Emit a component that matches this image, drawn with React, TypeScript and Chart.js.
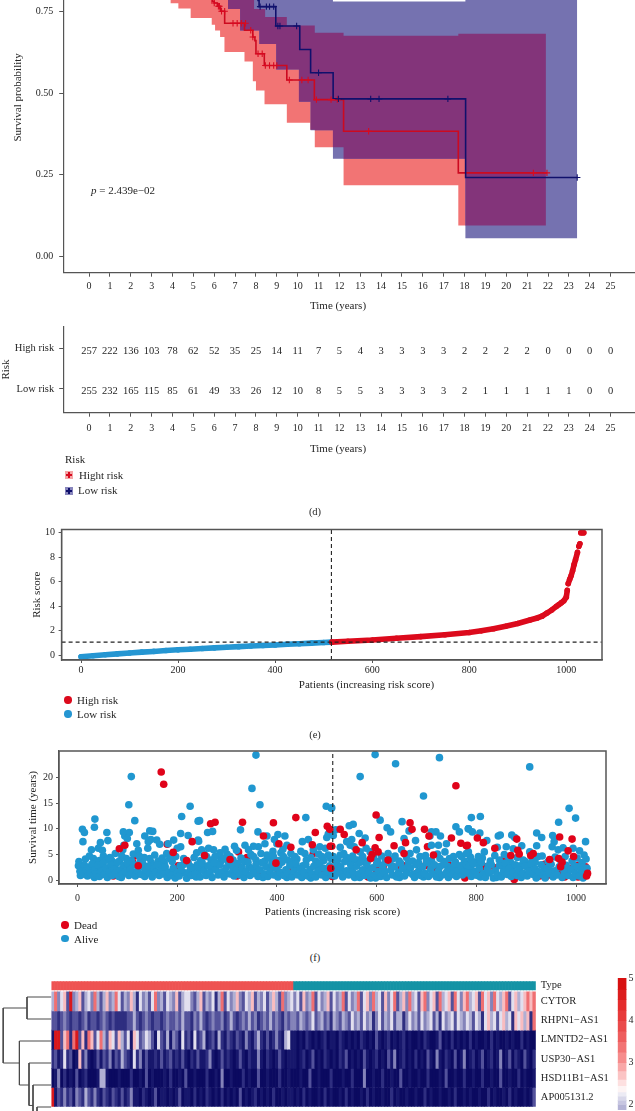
import React, { useEffect, useRef } from "react";
import { Chart, registerables } from "chart.js";
Chart.register(...registerables);

const SERIF = "'Liberation Serif'";
const INK = "#262626";
const AXIS = "#555555";

// ---- Kaplan-Meier (panel d)
const redStepT = [0, 1, 2, 3, 4, 5, 5.5, 5.9, 6.0, 6.15, 6.3, 6.5, 7.45, 7.85, 7.95, 8.0, 8.4, 9.48, 10.8, 12.2, 17.7, 21.95];
const redStepS = [1, 0.985, 0.96, 0.93, 0.89, 0.85, 0.81, 0.78, 0.775, 0.765, 0.75, 0.713, 0.692, 0.671, 0.66, 0.62, 0.584, 0.54, 0.48, 0.383, 0.256, 0.256];
const blueStepT = [0, 1, 2, 3, 4, 5, 6, 7, 7.5, 8.1, 8.15, 8.95, 10.1, 10.62, 11.7, 18.05, 23.4];
const blueStepS = [1, 0.99, 0.97, 0.95, 0.93, 0.9, 0.87, 0.83, 0.81, 0.783, 0.764, 0.705, 0.633, 0.562, 0.482, 0.242, 0.242];
const redCensorT = [6.0, 6.2, 6.25, 6.35, 6.5, 6.9, 7.1, 7.3, 7.5, 7.75, 7.85, 8.1, 8.3, 8.45, 8.65, 8.85, 9.0, 9.6, 10.2, 10.5, 10.9, 11.6, 11.9, 13.4, 21.3, 21.95];
const redCensorS = [0.775, 0.765, 0.765, 0.75, 0.75, 0.713, 0.713, 0.713, 0.713, 0.692, 0.671, 0.62, 0.62, 0.584, 0.584, 0.584, 0.584, 0.54, 0.54, 0.54, 0.48, 0.48, 0.48, 0.383, 0.256, 0.256];
const blueCensorT = [8.2, 8.5, 8.65, 8.85, 9.05, 9.15, 9.95, 11.0, 11.95, 13.5, 13.9, 17.2, 23.4];
const blueCensorS = [0.764, 0.764, 0.764, 0.764, 0.705, 0.705, 0.705, 0.562, 0.482, 0.482, 0.482, 0.482, 0.242];
const redBandT = [0, 1, 2, 3, 3.91, 4.28, 4.87, 5.88, 6.04, 6.28, 6.49, 7.45, 7.85, 7.91, 8.0, 8.41, 8.44, 9.48, 10.6, 10.82, 12.2, 17.7, 21.9];
const redBandLow = [1, 0.97, 0.92, 0.85, 0.774, 0.758, 0.729, 0.709, 0.691, 0.671, 0.625, 0.596, 0.536, 0.536, 0.508, 0.466, 0.466, 0.409, 0.388, 0.334, 0.218, 0.0955, 0.0955];
const redBandUp = [1, 1, 0.99, 0.98, 0.95, 0.94, 0.93, 0.9, 0.89, 0.88, 0.87, 0.84, 0.8, 0.757, 0.757, 0.757, 0.732, 0.706, 0.706, 0.684, 0.675, 0.681, 0.681];
const blueBandT = [0, 1, 2, 3, 4, 5, 6, 6.66, 7.24, 8.16, 8.97, 10.06, 10.62, 11.69, 18.04, 23.4];
const blueBandLow = [1, 0.98, 0.95, 0.92, 0.87, 0.83, 0.79, 0.757, 0.691, 0.65, 0.572, 0.473, 0.386, 0.299, 0.056, 0.056];
const blueBandUp = [1, 1, 1, 0.99, 0.98, 0.97, 0.95, 0.92, 0.9, 0.88, 0.84, 0.82, 0.8, 0.78, 0.85, 0.85];
const bothBandT = [6.66, 7.24, 7.45, 7.85, 7.91, 8.16, 8.44, 8.97, 9.48, 10.06, 10.62, 10.82, 11.69, 12.2, 17.7, 18.04, 21.9];
const bothBandLow = [0.757, 0.691, 0.691, 0.691, 0.691, 0.65, 0.65, 0.572, 0.572, 0.473, 0.388, 0.386, 0.334, 0.299, 0.299, 0.0955, 0.0955];
const bothBandUp = [0.87, 0.87, 0.84, 0.8, 0.757, 0.757, 0.732, 0.732, 0.706, 0.706, 0.706, 0.684, 0.684, 0.675, 0.681, 0.681, 0.681];

// ---- number at risk
const years = [0, 1, 2, 3, 4, 5, 6, 7, 8, 9, 10, 11, 12, 13, 14, 15, 16, 17, 18, 19, 20, 21, 22, 23, 24, 25];
const highAtRisk = [257, 222, 136, 103, 78, 62, 52, 35, 25, 14, 11, 7, 5, 4, 3, 3, 3, 3, 2, 2, 2, 2, 0, 0, 0, 0];
const lowAtRisk = [255, 232, 165, 115, 85, 61, 49, 33, 26, 12, 10, 8, 5, 5, 3, 3, 3, 3, 2, 1, 1, 1, 1, 1, 0, 0];

// ---- risk score (panel e)
const lowScoreX = [0, 25, 50, 75, 100, 125, 150, 175, 200, 225, 250, 275, 300, 325, 350, 375, 400, 425, 450, 475, 500, 516];
const lowScoreY = [-0.12, -0.03, 0.05, 0.12, 0.19, 0.26, 0.32, 0.39, 0.45, 0.5, 0.56, 0.61, 0.66, 0.71, 0.76, 0.8, 0.85, 0.9, 0.95, 1.0, 1.05, 1.08];
const highScoreX = [517, 550, 600, 650, 700, 750, 800, 825, 850, 875, 900, 925, 940, 950, 960, 970, 980, 985, 990, 995, 1000, 1002, 1003, 1004, 1007, 1010, 1013, 1016, 1019, 1023, 1024, 1026, 1028, 1029, 1030, 1033, 1036];
const highScoreY = [1.08, 1.15, 1.25, 1.4, 1.53, 1.68, 1.86, 2.0, 2.17, 2.37, 2.6, 2.88, 3.05, 3.2, 3.45, 3.7, 4.0, 4.15, 4.3, 4.45, 4.75, 5.3, null, 5.85, 6.2, 6.5, 6.9, 7.4, 7.8, 8.4, null, 8.9, 9.1, null, 10, 10, 10];
const scoreCutX = 516;
const scoreCutY = 1.08;

// ---- survival time (panel f): [patient, years]
const alive = [
  [108, 20.2], [103, 14.7], [115, 11.6], [226, 14.4], [209, 12.4], [242, 11.5], [35, 11.9], [34, 10.3], [10, 9.9], [14, 9.3], [11, 7.5], [59, 9.3], [61, 7.7], [46, 7.3], [42, 6.2], [50, 5.8], [28, 5.9], [24, 4.7], [32, 4.2], [44, 3.8],
  [95, 8.6], [104, 9.3], [92, 9.4], [100, 8.1], [93, 6.8], [91, 5.9], [89, 4.7], [119, 7.1], [122, 5.8], [124, 4.7], [145, 9.6], [151, 9.5], [135, 8.6], [147, 7.9], [142, 7.5], [159, 7.8], [165, 7], [141, 6.2], [182, 7.1], [193, 7.8],
  [207, 9.1], [222, 8.7], [242, 7.8], [207, 6.5], [200, 6.2], [179, 5.2], [185, 4.2], [145, 4.2], [65, 4.4], [59, 3.9],
  [2, 2.8], [5, 1.7], [8, 2.2], [4, 3.0], [12, 1.2], [14, 2.9], [18, 1.8], [20, 0.8], [23, 2.5], [26, 1.4], [29, 3.1], [31, 0.9], [35, 2.0], [38, 1.2], [41, 2.9], [44, 0.7], [48, 1.7], [51, 3.3], [54, 1.1], [57, 2.4],
  [60, 0.5], [64, 1.6], [67, 3.0], [70, 0.9], [73, 2.2], [77, 1.3], [80, 3.4], [83, 0.7], [86, 2.0], [90, 1.1], [93, 2.9], [96, 1.6], [100, 3.3], [103, 0.9], [106, 2.1], [110, 1.3], [113, 3.0], [116, 0.8], [120, 1.8], [124, 2.6],
  [128, 1.1], [131, 3.2], [135, 0.7], [138, 1.9], [142, 2.7], [146, 1.2], [150, 0.6], [153, 2.2], [157, 1.5], [160, 3.0], [164, 0.9], [168, 1.9], [172, 1.2], [176, 2.6], [180, 0.5], [184, 1.5], [188, 0.9], [192, 2.3], [196, 0.4], [200, 1.4],
  [204, 0.8], [208, 2.0], [212, 3.0], [219, 0.35], [224, 1.5], [228, 0.9], [232, 2.4], [236, 1.2], [240, 3.0], [244, 1.8],
  [358, 24.4], [350, 17.9], [366, 14.7], [499, 14.4], [509, 14.0], [245, 11.6], [458, 12.2], [327, 9.8], [261, 9.3], [271, 9.5], [243, 7.6], [362, 9.4], [380, 8.6], [395, 7.9], [402, 8.9], [416, 8.6], [400, 7.1], [420, 6.8], [412, 6], [451, 7.5],
  [463, 7.9], [506, 9.7], [500, 8.3], [503, 9.0], [376, 7.1], [363, 6.5], [353, 6.6], [336, 6.8], [315, 6.6], [319, 5.8], [343, 5.9], [296, 6], [286, 5.3], [273, 5.9], [263, 6.2], [249, 5.9], [239, 5.3], [276, 4.6], [293, 4.2], [259, 4.6],
  [306, 4.6], [353, 4.6], [380, 4.9], [393, 4.6], [413, 4.6], [436, 4.6], [486, 6.5], [497, 6.2], [473, 5.9], [456, 5.2], [490, 4.6], [503, 4.9], [433, 3.9],
  [238, 1.1], [242, 2.6], [246, 0.6], [250, 3.4], [254, 1.8], [258, 0.9], [262, 2.8], [266, 1.4], [270, 0.5], [274, 3.3], [278, 2.0], [282, 1.0], [286, 3.0], [290, 1.6], [294, 0.6], [298, 2.4], [302, 3.6], [306, 1.2], [310, 2.9], [314, 0.8],
  [318, 1.9], [322, 3.2], [326, 1.0], [330, 2.4], [334, 0.5], [338, 1.6], [342, 3.5], [346, 0.9], [350, 2.2], [354, 1.3], [358, 3.0], [362, 0.7], [366, 2.0], [370, 3.4], [374, 1.2], [378, 2.6], [382, 0.7], [386, 1.7], [390, 3.2], [394, 1.0],
  [398, 2.3], [402, 0.6], [406, 1.5], [410, 3.5], [414, 0.9], [418, 2.0], [422, 1.3], [426, 2.9], [430, 0.6], [434, 1.8], [438, 3.2], [442, 1.0], [446, 2.2], [450, 0.5], [454, 1.5], [458, 3.0], [462, 0.8], [466, 2.0], [470, 1.2], [474, 2.7],
  [478, 0.6], [482, 1.7], [486, 3.3], [490, 1.0], [494, 2.3], [498, 0.5], [502, 1.6], [506, 2.8], [510, 1.0], [514, 2.2],
  [597, 24.5], [638, 22.7], [726, 23.9], [567, 20.2], [694, 16.4], [510, 14.1], [790, 12.2], [651, 11.4], [607, 11.7], [553, 10.9], [545, 10.6], [518, 9.8], [513, 8.7], [621, 10.2], [628, 9.4], [665, 9.6], [565, 9.1], [577, 8.2], [550, 7.9], [540, 7.5],
  [547, 6.8], [555, 6.5], [527, 6.4], [678, 7.7], [655, 8.1], [710, 9.4], [719, 9.4], [707, 8.6], [728, 8.6], [724, 6.8], [710, 6.8], [740, 7.1], [737, 5.5], [759, 10.4], [766, 9.4], [784, 10], [567, 5.5], [579, 6.2], [587, 5.5], [623, 5.2],
  [637, 4.7], [650, 5.9], [667, 5.2], [680, 5.9], [687, 4.6], [700, 3.9], [727, 4.2], [754, 4.6], [770, 4.6], [784, 5.5], [527, 4.9], [540, 4.4], [557, 3.9], [513, 4.6],
  [512, 2.0], [516, 0.8], [520, 3.3], [524, 1.4], [528, 2.6], [532, 0.6], [536, 3.6], [540, 1.8], [544, 1.0], [548, 3.0], [552, 1.6], [556, 0.5], [560, 2.7], [564, 1.2], [568, 3.5], [572, 2.0], [576, 0.9], [580, 3.1], [584, 1.5], [588, 0.4],
  [592, 2.4], [596, 1.0], [600, 3.2], [604, 1.7], [608, 0.7], [612, 2.9], [616, 1.3], [620, 0.5], [624, 3.4], [628, 1.9], [632, 1.0], [636, 2.6], [640, 0.6], [644, 1.5], [648, 3.3], [652, 2.2], [656, 0.8], [660, 1.4], [664, 3.6], [668, 2.4],
  [672, 1.1], [676, 0.5], [680, 3.0], [684, 1.7], [688, 0.9], [692, 2.6], [696, 1.3], [700, 3.4], [704, 0.7], [708, 2.0], [712, 1.2], [716, 3.0], [720, 0.6], [724, 1.8], [728, 2.7], [732, 1.0], [736, 3.3], [740, 1.5], [744, 0.5], [748, 2.3],
  [752, 1.1], [756, 3.1], [760, 0.7], [764, 1.9], [768, 2.8], [772, 1.0], [776, 1.6], [780, 3.0],
  [907, 22.1], [986, 14], [965, 11.3], [999, 12.1], [808, 12.4], [784, 10.0], [792, 9.4], [807, 9.2], [821, 7.7], [848, 8.8], [844, 8.6], [871, 8.8], [877, 8.3], [921, 9.2], [931, 8.3], [953, 8.7], [956, 7.5], [952, 6.5], [921, 6.7], [842, 6.4],
  [860, 6.5], [891, 6.7], [874, 6.1], [907, 5.5], [964, 5.9], [974, 6.3], [994, 6.2], [1007, 5.7], [1019, 7.5], [1016, 4.9], [924, 4.6], [837, 4.8], [816, 5.5], [804, 4.6], [790, 3.9], [780, 5.2], [864, 4.6], [894, 3.9],
  [782, 1.4], [786, 2.7], [790, 0.7], [794, 3.2], [798, 1.7], [802, 0.9], [806, 2.3], [810, 3.4], [814, 1.2], [818, 0.5], [822, 2.1], [826, 1.4], [830, 3.0], [834, 0.4], [838, 1.8], [842, 1.0], [846, 2.8], [850, 0.6], [854, 1.6], [858, 3.3],
  [862, 1.1], [866, 2.3], [870, 0.7], [874, 1.5], [878, 3.0], [882, 0.9], [886, 2.0], [890, 0.5], [894, 1.3], [898, 2.7], [902, 0.8], [906, 1.8], [910, 3.2], [914, 1.1], [918, 2.2], [922, 0.7], [926, 1.6], [930, 3.0], [934, 1.0], [938, 0.4],
  [942, 2.3], [946, 1.3], [950, 3.1], [954, 0.6], [958, 1.8], [962, 1.0], [966, 2.6], [972, 0.5], [976, 1.6], [980, 2.9], [984, 0.9], [990, 2.0], [994, 0.5], [998, 1.3], [1002, 2.6], [1006, 0.8], [1010, 1.9], [1014, 0.4], [1018, 1.2], [1022, 2.3],
];
// shoulder of the dense band: the crowded region between about 3 and 5.5 years
const aliveShoulder = [
  [3, 3.6], [16, 4.1], [36, 3.5], [52, 4.7], [68, 3.9], [76, 5.2], [84, 3.7], [98, 4.2], [108, 3.8], [112, 5.1], [126, 3.6], [134, 4.4], [148, 3.4], [155, 4.9], [162, 3.7], [170, 4.3], [174, 3.4], [190, 3.6], [197, 4.6], [213, 4.2], [222, 3.4], [234, 4.4], [247, 3.8], [254, 5.1],
  [268, 3.9], [281, 4.7], [288, 3.7], [300, 5.1], [312, 3.9], [328, 4.3], [335, 3.6], [348, 5.0], [358, 3.9], [368, 5.2], [376, 3.7], [385, 4.3], [392, 5.6], [404, 3.8], [408, 5.3], [421, 3.9], [428, 5.2], [440, 4.1], [448, 5.6], [459, 3.9], [468, 4.4], [478, 3.7], [484, 5.1], [494, 3.8], [508, 4.2],
  [522, 3.9], [534, 5.2], [545, 3.6], [552, 4.7], [562, 3.9], [572, 4.6], [582, 3.7], [594, 4.5], [602, 3.6], [610, 4.7], [618, 3.8], [632, 4.1], [645, 3.7], [660, 4.4], [672, 3.7], [684, 3.4], [698, 4.8], [710, 3.8], [722, 5.1], [735, 3.6], [746, 4.2], [758, 3.5], [766, 5.0], [776, 3.7],
  [788, 4.5], [800, 3.4], [812, 4.3], [828, 3.7], [846, 3.9], [856, 5.0], [868, 3.6], [882, 4.4], [898, 3.6], [912, 4.3], [918, 3.5], [932, 4.7], [944, 3.6], [958, 4.5], [970, 3.6], [978, 4.6], [992, 3.7], [1002, 4.3], [1012, 3.4], [1020, 4.1],
  [6, 0.9], [22, 1.9], [34, 0.5], [46, 2.4], [62, 1.1], [75, 2.8], [88, 0.5], [104, 2.6], [118, 1.4], [133, 2.4], [148, 1.8], [166, 2.7], [178, 1.6], [194, 1.2], [206, 2.8], [215, 1.4], [226, 2.7], [238, 0.6], [252, 2.6], [268, 2.2], [280, 3.2], [296, 1.2], [312, 2.2], [328, 1.4], [344, 2.6], [356, 2.2], [372, 0.5], [388, 2.4], [404, 2.9], [420, 0.5], [436, 2.5], [452, 2.8], [468, 0.4], [484, 2.6], [500, 1.2], [518, 2.3], [534, 1.5], [550, 2.4], [566, 0.5], [582, 2.4], [598, 0.4], [614, 1.9], [630, 2.8], [646, 0.5], [662, 2.6], [678, 1.2], [694, 0.6], [710, 2.6], [726, 0.5], [742, 2.7], [758, 1.9], [774, 2.5], [790, 2.0], [808, 0.6], [824, 2.8], [840, 0.5], [856, 2.2], [872, 2.4], [888, 2.8], [904, 2.4], [920, 0.4], [936, 2.2], [952, 1.7], [968, 2.4], [982, 2.2], [996, 2.8], [1012, 2.6],
];
const deadBack = [
  [180, 7], [202, 2.8], [111, 3.4], [38, 2.1], [70, 1.3], [72, 0.8], [120, 1.2], [115, 4.7], [323, 5.5], [340, 4.4], [323, 2.6], [320, 0.8], [368, 1.2], [402, 1.3], [432, 2.3], [460, 1], [473, 5.2], [490, 1.6], [511, 0.7],
  [702, 6.5], [720, 1.9], [679, 1.2], [768, 2.1], [777, 0.4], [786, 1.9], [599, 2], [613, 2.6], [583, 0.6], [643, 2.6], [657, 2.8], [697, 2.8], [744, 3], [997, 2.5], [977, 0.6], [964, 1.6], [941, 0.8], [927, 0.8], [876, 0.1], [864, 1.2], [837, 2.4],
  [818, 2.6], [809, 1.2], [787, 2], [1004, 0.6], [987, 2.3], [1004, 2.9], [1019, 2.6], [854, 4], [904, 3.1], [937, 3.1],
];
const deadFront = [
  [168, 21.1], [173, 18.7], [192, 5.4], [230, 7.5], [84, 6.1], [95, 6.8], [219, 3.8], [122, 2.8],
  [276, 11.3], [267, 11], [331, 11.3], [393, 11.2], [438, 12.2], [501, 10.5], [506, 9.9], [477, 9.3], [471, 6.9], [373, 8.6], [404, 7.1], [428, 6.4], [255, 4.8], [306, 4], [398, 3.3], [508, 2.3], [510, 6.6],
  [759, 18.4], [599, 12.7], [667, 11.2], [671, 9.9], [696, 9.9], [527, 9.9], [535, 8.9], [605, 8.3], [750, 8.2], [769, 7.2], [780, 6.7], [571, 7.3], [658, 7.3], [635, 6.7], [597, 6.3], [603, 5.5], [559, 5.9], [591, 5], [588, 4.2], [714, 4.9], [655, 5.2], [705, 8.6], [507, 6.6], [623, 3.9],
  [782, 6.8], [802, 8.2], [814, 7.3], [881, 8], [967, 8.4], [992, 8], [837, 6.2], [883, 5.8], [886, 5.1], [914, 5.2], [909, 4.8], [869, 4.8], [995, 4.6], [984, 5.7], [947, 4], [965, 4.2], [972, 3.5], [969, 2.6], [1023, 1.3], [1021, 0.8],
];
const survivalCutX = 512;

// ---- heatmap (panel g) : expression class per sample, 0 = deep blue ... 9 = deep red
const typeGroups = [80, 80];
const geneLabels = ["CYTOR", "RHPN1\u2212AS1", "LMNTD2\u2212AS1", "USP30\u2212AS1", "HSD11B1\u2212AS1", "AP005131.2"];
const cytorCells = [
  5,8,4,6,7,3,9,4,5,7,3,5,6,4,8,5,3,5,7,4, 5,8,6,3,5,4,7,5,2,6,4,5,3,6,8,4,5,3,6,5,
  4,7,3,5,6,6,4,3,5,7,3,5,4,6,2,5,8,3,6,4, 5,7,4,3,6,5,7,3,5,4,6,3,5,7,5,3,8,4,5,6,
  4,6,3,7,4,5,8,3,6,4,5,7,3,6,4,5,8,3,6,4, 5,8,3,6,7,4,8,5,6,3,7,4,6,8,3,5,7,4,8,5,
  6,3,7,8,4,6,7,3,8,5,6,7,3,8,6,4,7,8,5,6, 7,3,8,6,7,4,8,6,5,7,8,3,6,7,5,6,7,8,7,8,
];
const rhpn1Cells = [
  3,3,2,3,4,3,2,3,3,2,3,4,2,3,3,2,3,4,3,2, 3,2,2,2,2,3,3,5,3,2,3,4,3,2,3,3,2,3,4,3,
  3,4,3,5,3,3,2,4,3,5,3,2,3,4,3,3,4,2,3,5, 3,2,3,4,3,5,3,4,2,3,4,3,5,3,4,3,2,4,3,4,
  4,3,5,4,3,4,6,3,4,5,3,4,2,5,4,3,5,4,3,6, 4,5,3,6,4,5,2,4,6,3,5,4,6,3,5,5,2,4,6,4,
  5,3,6,4,5,6,3,5,2,6,4,5,6,3,6,5,4,6,5,3, 6,5,2,6,7,5,6,3,6,7,5,6,2,7,6,7,5,7,2,8,
];
const lmntd2Cells = [
  1,9,9,3,7,8,2,8,9,3,7,2,8,7,3,6,8,5,3,7, 6,3,7,5,3,6,1,7,6,3,4,6,5,3,1,6,3,2,5,1,
  4,3,1,6,2,3,1,6,2,3,5,1,2,3,1,5,2,1,3,2, 1,3,2,1,4,2,1,3,5,2,1,3,1,2,4,2,1,5,6,1,
  1,0,1,0,2,1,0,1,0,1,2,0,1,1,0,2,1,0,1,0, 1,0,2,1,0,1,0,3,1,0,1,2,0,1,0,1,2,0,1,0,
  0,1,0,2,1,0,0,1,3,0,1,0,2,0,1,0,1,0,2,0, 1,0,0,1,0,2,0,1,0,0,1,0,1,0,0,2,0,1,0,0,
];
const usp30Cells = [
  2,3,1,2,6,2,3,0,1,7,2,4,1,0,1,3,1,3,2,4, 1,3,2,5,3,2,1,6,2,4,1,3,1,1,2,1,3,1,2,3,
  1,2,1,3,1,0,2,1,3,1,1,2,4,1,0,1,3,1,2,1, 0,1,3,1,0,2,1,1,4,1,0,2,1,0,1,3,1,0,1,1,
  1,0,1,2,0,1,3,0,1,0,2,1,0,1,0,2,1,3,0,1, 0,1,0,3,1,0,1,2,0,1,0,3,1,4,0,1,2,0,1,0,
  2,0,1,0,3,1,0,4,1,0,2,1,0,3,0,1,4,0,1,2, 0,1,3,0,1,2,0,1,4,0,1,3,0,2,1,0,3,1,0,2,
];
const hsd11b1Cells = [
  0,1,4,0,2,0,1,0,3,0,1,2,0,0,0,1,5,5,1,0, 0,0,1,0,0,0,2,0,0,1,0,3,0,1,0,0,0,1,0,2,
  0,0,1,0,3,0,0,1,0,0,0,2,0,0,1,0,4,0,0,1, 0,0,0,2,0,1,0,0,3,0,0,1,0,0,0,2,0,0,1,0,
  0,0,1,0,0,3,0,0,1,0,0,0,2,0,0,0,1,0,0,2, 0,0,0,4,0,0,1,0,0,2,0,0,1,0,0,3,0,0,1,0,
  0,1,0,0,2,0,0,0,1,0,3,0,0,1,0,0,2,0,0,1, 0,0,2,0,0,1,0,0,3,0,0,1,0,0,2,0,1,0,0,1,
];
const ap005131Cells = [
  9,1,3,2,4,2,3,1,4,3,2,5,3,2,4,2,1,3,2,1, 3,2,1,3,1,2,4,1,1,0,2,1,0,1,3,0,1,1,0,1,
  0,1,3,0,1,1,0,2,0,1,0,2,1,0,1,0,2,0,1,0, 1,0,3,0,1,0,1,2,0,1,0,1,0,2,0,0,1,0,1,1,
  0,1,0,2,0,1,0,0,1,0,2,0,1,0,0,1,0,2,0,1, 0,0,1,0,2,0,1,0,0,1,0,0,2,0,1,0,0,1,0,0,
  1,0,0,2,0,1,0,0,1,0,0,1,0,2,0,0,1,0,1,0, 0,1,0,0,2,0,1,0,0,1,0,2,0,1,0,0,1,0,1,3,
];
const cellPalette = ["#0b0a60", "#17176c", "#2e2e80", "#53529b", "#8483b9", "#b0afd3", "#e2dfee", "#f8bcc0", "#ef6f72", "#d8181c"];
const dendrogramLinks = [
  [[24.4, 1], [48.2, 1], [48.2, 3.5], [32, 3.5]],
  [[0, 0.5], [24.4, 0.5], [24.4, 1.5], [0, 1.5]],
  [[0, 2.5], [32, 2.5], [32, 4.5], [22.4, 4.5]],
  [[0, 3.5], [22.4, 3.5], [22.4, 5.43], [18.4, 5.43]],
  [[0, 4.5], [18.4, 4.5], [18.4, 6.3], [14.4, 6.3]],
  [[0, 5.5], [14.4, 5.5], [14.4, 7]],
];
const colorbarEdges = [5.02, 4.75, 4.5, 4.25, 4, 3.75, 3.5, 3.25, 3, 2.8, 2.6, 2.45, 2.3, 2.2, 2.1, 2, 1.87];
const colorbarFills = ["#d70f0f", "#dc1d1d", "#e42c2c", "#e73a3a", "#ea4a4a", "#ee5d5d", "#f27474", "#f68c8c", "#f9a8a8", "#fbc4c4", "#fde0e0", "#fdf4f4", "#ecebf4", "#d9d8ea", "#c7c6e1", "#b4b3d6"];

const pairs = (xs, ys) => xs.map((x, i) => ({ x, y: ys[i] }));
const objs = (rows) => rows.map(([x, y]) => ({ x, y }));

const xAxis = (min, max, maxTick, step, height, tickLength, padding) => ({
  type: "linear",
  min,
  max,
  afterFit: (s) => { s.height = height; },
  afterBuildTicks: (s) => { s.ticks = s.ticks.filter((t) => t.value >= 0 && t.value <= maxTick); },
  grid: { drawOnChartArea: false, tickLength, color: AXIS, lineWidth: 1 },
  border: { color: AXIS, width: 1.2 },
  ticks: { stepSize: step, includeBounds: false, autoSkip: false, maxRotation: 0, padding, color: INK, font: { size: 10 }, callback: (v) => String(v) },
});
const yAxis = (min, max, step, width, tickLength, padding, titleText, titlePad, fmt, maxTick = Infinity) => ({
  type: "linear",
  min,
  max,
  afterFit: (s) => { s.width = width; },
  afterBuildTicks: (s) => { s.ticks = s.ticks.filter((t) => t.value <= maxTick); },
  grid: { drawOnChartArea: false, tickLength, color: AXIS, lineWidth: 1 },
  border: { color: AXIS, width: 1.2 },
  ticks: { stepSize: step, includeBounds: false, autoSkip: false, padding, color: INK, font: { size: 10 }, callback: fmt || ((v) => String(v)) },
  title: titleText ? { display: true, text: titleText, color: INK, font: { size: 11 }, padding: { top: titlePad, bottom: 0 } } : { display: false },
});
const base = (padding) => ({
  responsive: false,
  animation: false,
  devicePixelRatio: 1,
  events: [],
  layout: { autoPadding: false, padding },
  plugins: { legend: { display: false }, tooltip: { enabled: false } },
});
const frame = {
  id: "frame",
  afterDatasetsDraw(c) {
    const { left, top, width, height } = c.chartArea;
    c.ctx.save();
    c.ctx.strokeStyle = AXIS;
    c.ctx.lineWidth = 1.5;
    c.ctx.strokeRect(left, top, width, height);
    c.ctx.restore();
  },
};
const rule = (data, color) => ({ data, showLine: true, pointRadius: 0, borderColor: color, borderWidth: 1.1, borderDash: [4, 3], order: -1 });
const band = (xs, up, low, fill, order) => [
  { data: pairs(xs, up), showLine: true, stepped: "before", pointRadius: 0, borderWidth: 0, fill: false, order },
  { data: pairs(xs, low), showLine: true, stepped: "before", pointRadius: 0, borderWidth: 0, backgroundColor: fill, fill: "-1", order },
];

const T = ({ x, y, size = 11, center = false, children }) => (
  <div style={{ position: "absolute", left: x, top: y, transform: center ? "translate(-50%,-50%)" : "translateY(-50%)", fontFamily: SERIF, fontSize: size, color: INK, whiteSpace: "nowrap", lineHeight: 1 }}>{children}</div>
);
const Dot = ({ x, y, color }) => (
  <div style={{ position: "absolute", left: x - 3.7, top: y - 3.7, width: 7.4, height: 7.4, borderRadius: "50%", background: color }} />
);
const Key = ({ x, y, fill, mark }) => (
  <div style={{ position: "absolute", left: x, top: y, width: 8, height: 8, background: fill }}>
    <div style={{ position: "absolute", left: 1, top: 3.4, width: 6, height: 1.2, background: mark }} />
    <div style={{ position: "absolute", left: 3.4, top: 1, width: 1.2, height: 6, background: mark }} />
  </div>
);

export default function App() {
  const km = useRef(null);
  const risk = useRef(null);
  const score = useRef(null);
  const surv = useRef(null);
  const heat = useRef(null);
  const dendro = useRef(null);
  const bar = useRef(null);

  useEffect(() => {
    Chart.defaults.font.family = SERIF;
    const charts = [];

    charts.push(new Chart(km.current, {
      type: "scatter",
      data: {
        datasets: [
          ...band(redBandT, redBandUp, redBandLow, "#f27474", 7),
          ...band(blueBandT, blueBandUp, blueBandLow, "#7572b0", 6),
          ...band(bothBandT, bothBandUp, bothBandLow, "#83347a", 5),
          { data: pairs(redStepT, redStepS), showLine: true, stepped: "before", pointRadius: 0, borderColor: "#cc0a20", borderWidth: 1.6, order: 3 },
          { data: pairs(blueStepT, blueStepS), showLine: true, stepped: "before", pointRadius: 0, borderColor: "#10106c", borderWidth: 1.6, order: 2 },
          { data: pairs(redCensorT, redCensorS), pointStyle: "cross", pointRadius: 3.2, borderColor: "#d80a20", pointBorderWidth: 1.1, order: 1 },
          { data: pairs(blueCensorT, blueCensorS), pointStyle: "cross", pointRadius: 3.2, borderColor: "#10106c", pointBorderWidth: 1.1, order: 0 },
        ],
      },
      options: {
        ...base({ top: 11.3, left: 0, right: 0, bottom: 0 }),
        scales: {
          x: xAxis(-1.24, 26.17, 25, 1, 38.3, 4, 4),
          y: yAxis(-0.049, 1.0226, 0.25, 63.2, 4, 6, "Survival probability", 11.4, (v) => v.toFixed(2)),
        },
      },
    }));

    charts.push(new Chart(risk.current, {
      type: "scatter",
      data: {
        datasets: [
          { data: years.map((x) => ({ x, y: 2 })), pointRadius: 0, counts: highAtRisk },
          { data: years.map((x) => ({ x, y: 1 })), pointRadius: 0, counts: lowAtRisk },
        ],
      },
      options: {
        ...base({ top: 8, left: 0, right: 0, bottom: 0 }),
        scales: {
          x: xAxis(-1.24, 26.17, 25, 1, 41.3, 4, 6),
          y: {
            ...yAxis(0.412, 2.548, 1, 63.2, 4, 5, "Risk", 0),
            afterBuildTicks: (s) => { s.ticks = [{ value: 1 }, { value: 2 }]; },
            ticks: { padding: 5, color: INK, font: { size: 10.5 }, callback: (v) => (v === 2 ? "High risk" : "Low risk") },
          },
        },
      },
      plugins: [{
        id: "counts",
        afterDatasetsDraw(c) {
          const { ctx } = c;
          ctx.save();
          ctx.font = `10.5px ${SERIF}`;
          ctx.fillStyle = INK;
          ctx.textAlign = "center";
          ctx.textBaseline = "middle";
          c.data.datasets.forEach((d, i) => {
            c.getDatasetMeta(i).data.forEach((p, j) => ctx.fillText(String(d.counts[j]), p.x, p.y + 2.5));
          });
          ctx.restore();
        },
      }],
    }));

    charts.push(new Chart(score.current, {
      type: "scatter",
      data: {
        datasets: [
          rule([{ x: scoreCutX, y: -0.38 }, { x: scoreCutX, y: 10.27 }], "#222"),
          rule([{ x: -40, y: scoreCutY }, { x: 1073, y: scoreCutY }], "#222"),
          { data: pairs(highScoreX, highScoreY), showLine: true, borderColor: "#dc0a1c", backgroundColor: "#dc0a1c", borderWidth: 5.6, pointRadius: 2.8, pointBorderWidth: 0, borderCapStyle: "round", order: 1 },
          { data: pairs(lowScoreX, lowScoreY), showLine: true, borderColor: "#2596d2", backgroundColor: "#2596d2", borderWidth: 5.6, pointRadius: 2.8, pointBorderWidth: 0, borderCapStyle: "round", order: 2 },
        ],
      },
      options: {
        ...base({ top: 9, left: 0, right: 33, bottom: 0 }),
        scales: {
          x: xAxis(-40, 1073.6, 1000, 200, 20, 3, 1),
          y: yAxis(-0.38, 10.27, 2, 61.6, 3, 3.5, "Risk score", 31),
        },
      },
      plugins: [frame],
    }));

    charts.push(new Chart(surv.current, {
      type: "scatter",
      data: {
        datasets: [
          rule([{ x: survivalCutX, y: -0.77 }, { x: survivalCutX, y: 25.2 }], "#222"),
          { data: objs(deadFront), backgroundColor: "#e0031a", pointRadius: 3.8, pointBorderWidth: 0, order: 1 },
          { data: objs(alive), backgroundColor: "#2097d0", pointRadius: 3.8, pointBorderWidth: 0, order: 2 },
          { data: objs(aliveShoulder), backgroundColor: "#2097d0", pointRadius: 3.8, pointBorderWidth: 0, order: 2 },
          { data: objs(deadBack), backgroundColor: "#e0031a", pointRadius: 3.8, pointBorderWidth: 0, order: 3 },
        ],
      },
      options: {
        ...base({ top: 8, left: 0, right: 29, bottom: 0 }),
        scales: {
          x: {
            ...xAxis(-37, 1060, 1000, 200, 35, 3, 5),
            title: { display: true, text: "Patients (increasing risk score)", color: INK, font: { size: 11 }, padding: 0 },
          },
          y: yAxis(-0.77, 25.2, 5, 59, 3, 3, "Survival time (years)", 26.4, null, 20),
        },
      },
      plugins: [frame],
    }));

    const typeCells = typeGroups.flatMap((n, i) => Array(n).fill(i));
    const columns = typeCells.map((_, i) => String(i));
    const rows = [cytorCells, rhpn1Cells, lmntd2Cells, usp30Cells, hsd11b1Cells, ap005131Cells];
    charts.push(new Chart(heat.current, {
      type: "bar",
      data: {
        labels: columns,
        datasets: [
          { data: typeCells.map(() => [-0.545, -0.09]), backgroundColor: typeCells.map((t) => (t === 0 ? "#ee5352" : "#1493a5")) },
          ...rows.map((vals, r) => ({ data: vals.map(() => [r, r + 1]), backgroundColor: vals.map((v) => cellPalette[v]) })),
        ],
      },
      options: {
        ...base({ top: 4, left: 51.4, right: 0, bottom: 0 }),
        datasets: { bar: { barPercentage: 1, categoryPercentage: 1, borderWidth: 0, grouped: false } },
        scales: {
          x: { display: false },
          y: {
            type: "linear",
            position: "right",
            reverse: true,
            min: -0.545,
            max: 6,
            afterFit: (s) => { s.width = 79.2; },
            afterBuildTicks: (s) => { s.ticks = [-0.32, 0.5, 1.5, 2.5, 3.5, 4.5, 5.5].map((value) => ({ value })); },
            grid: { display: false, drawTicks: false },
            border: { display: false },
            ticks: { padding: 5, color: INK, font: { size: 10.5 }, autoSkip: false, callback: (v) => (v < 0 ? "Type" : geneLabels[Math.floor(v)]) },
          },
        },
      },
    }));

    charts.push(new Chart(dendro.current, {
      type: "scatter",
      data: { datasets: dendrogramLinks.map((link) => ({ data: link.map(([x, y]) => ({ x, y })), showLine: true, pointRadius: 0, borderColor: "#4a4a4a", borderWidth: 1 })) },
      options: {
        ...base({ top: 0, left: 0, right: 0.6, bottom: 0 }),
        scales: {
          x: { type: "linear", reverse: true, min: 0, max: 51.4, display: false },
          y: { type: "linear", reverse: true, min: 0, max: 7, display: false },
        },
      },
    }));

    charts.push(new Chart(bar.current, {
      type: "bar",
      data: {
        labels: ["scale"],
        datasets: colorbarFills.map((fill, i) => ({ data: [[colorbarEdges[i + 1], colorbarEdges[i]]], backgroundColor: fill })),
      },
      options: {
        ...base({ top: 8, left: 17.7, right: 0, bottom: 0 }),
        datasets: { bar: { barPercentage: 1, categoryPercentage: 1, borderWidth: 0, grouped: false } },
        scales: {
          x: { display: false },
          y: {
            type: "linear",
            position: "right",
            min: 1.87,
            max: 5.02,
            afterFit: (s) => { s.width = 8.5; },
            grid: { display: false, drawTicks: false },
            border: { display: false },
            ticks: { stepSize: 1, includeBounds: false, padding: 2, color: INK, font: { size: 10 }, callback: (v) => String(v) },
          },
        },
      },
    }));

    return () => charts.forEach((c) => c.destroy());
  }, []);

  const place = (left, top) => ({ position: "absolute", left, top, display: "block" });
  return (
    <div style={{ position: "absolute", left: 0, top: 0, width: 635, height: 1111, overflow: "hidden", background: "#fff" }}>
      <canvas ref={km} width={635} height={401} style={place(0, -90)} />
      <canvas ref={risk} width={635} height={139} style={place(0, 315)} />
      <canvas ref={score} width={635} height={160} style={place(0, 520)} />
      <canvas ref={surv} width={635} height={177} style={place(0, 742)} />
      <canvas ref={heat} width={615} height={148} style={place(0, 970)} />
      <canvas ref={dendro} width={52} height={154} style={place(0, 986)} />
      <canvas ref={bar} width={35} height={148} style={place(600, 970)} />

      <T x={91} y={190}><i>p</i> = 2.439e−02</T>
      <T x={338} y={305} center>Time (years)</T>
      <T x={338} y={448} center>Time (years)</T>
      <T x={65} y={459}>Risk</T>
      <Key x={65} y={471} fill="#f4a6a6" mark="#d80a20" />
      <T x={79} y={475}>Hight risk</T>
      <Key x={65} y={487} fill="#8886bd" mark="#10106c" />
      <T x={78} y={490}>Low risk</T>
      <T x={315} y={512} size={10.5} center>(d)</T>

      <T x={366.5} y={684} center>Patients (increasing risk score)</T>
      <Dot x={68} y={700} color="#dc0a1c" />
      <T x={77} y={700}>High risk</T>
      <Dot x={68} y={714} color="#2596d2" />
      <T x={77} y={714}>Low risk</T>
      <T x={315} y={735} size={10.5} center>(e)</T>

      <Dot x={65} y={925} color="#e0031a" />
      <T x={74} y={925}>Dead</T>
      <Dot x={65} y={938.7} color="#2097d0" />
      <T x={74} y={938.7}>Alive</T>
      <T x={315} y={958} size={10.5} center>(f)</T>
    </div>
  );
}
